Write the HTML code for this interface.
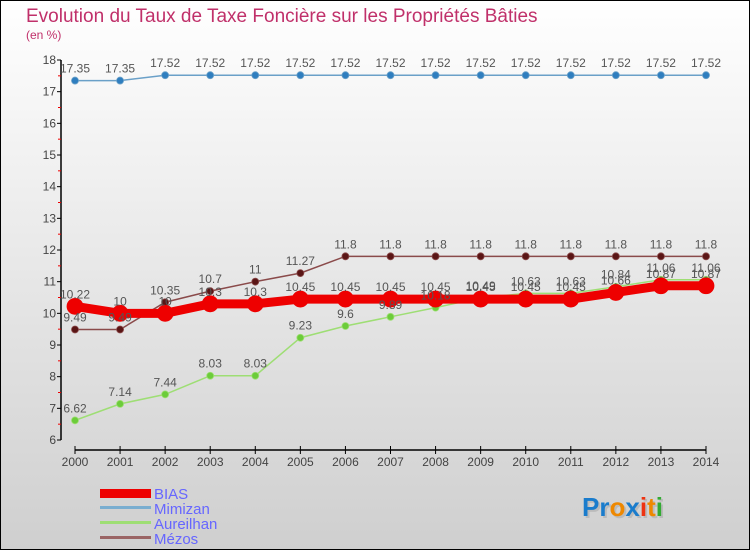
<!DOCTYPE html>
<html><head><meta charset="utf-8"><style>
body{margin:0;width:750px;height:550px;overflow:hidden;font-family:"Liberation Sans",sans-serif}
svg{display:block}
</style></head><body>
<svg id="chart" width="750" height="550" xmlns="http://www.w3.org/2000/svg">
<defs><linearGradient id="bg" x1="0" y1="0" x2="0" y2="1"><stop offset="0" stop-color="#ffffff"/><stop offset="1" stop-color="#cfcfcf"/></linearGradient></defs>
<rect x="0.5" y="0.5" width="749" height="549" fill="url(#bg)" stroke="#000"/>
<text x="26" y="22" font-size="19" fill="#c0306a">Evolution du Taux de Taxe Foncière sur les Propriétés Bâties</text>
<text x="26" y="39" font-size="12" fill="#c0306a">(en %)</text>
<g id="axes"></g><g id="series"></g><g id="labels"></g>
<g>
<rect x="100" y="489" width="51" height="9" fill="#e00"/>
<text x="154" y="499" font-size="15" fill="#6666ff">BIAS</text>
<rect x="100" y="506" width="51" height="3" fill="#7aaed0"/>
<text x="154" y="514" font-size="15" fill="#6666ff">Mimizan</text>
<rect x="100" y="521" width="51" height="3" fill="#9ede74"/>
<text x="154" y="529" font-size="15" fill="#6666ff">Aureilhan</text>
<rect x="100" y="536" width="51" height="3" fill="#9a6464"/>
<text x="154" y="544" font-size="15" fill="#6666ff">Mézos</text>
</g>
<g font-size="26" font-weight="bold">
<text x="584" y="518" fill="#bbb">Proxiti</text>
<text x="582" y="516" fill="#1a7ccc">Pr<tspan fill="#ee8800">o</tspan><tspan fill="#1a7ccc">x</tspan><tspan fill="#ee3311">i</tspan><tspan fill="#ee8800">t</tspan><tspan fill="#33aa33">i</tspan></text>
</g>
</svg>
<script>
const years=[2000,2001,2002,2003,2004,2005,2006,2007,2008,2009,2010,2011,2012,2013,2014];
const bias=[10.22,10,10,10.3,10.3,10.45,10.45,10.45,10.45,10.45,10.45,10.45,10.66,10.87,10.87];
const mimizan=[17.35,17.35,17.52,17.52,17.52,17.52,17.52,17.52,17.52,17.52,17.52,17.52,17.52,17.52,17.52];
const aureilhan=[6.62,7.14,7.44,8.03,8.03,9.23,9.6,9.89,10.18,10.49,10.63,10.63,10.84,11.06,11.06];
const mezos=[9.49,9.49,10.35,10.7,11,11.27,11.8,11.8,11.8,11.8,11.8,11.8,11.8,11.8,11.8];
const yTicks=[6,7,8,9,10,11,12,13,14,15,16,17,18];
const NS="http://www.w3.org/2000/svg";
const xS=i=>75+i*(706-75)/(years.length-1);
const yS=v=>440-(v-6)*(380/12);
function mk(tag,attrs,parent,text){const e=document.createElementNS(NS,tag);for(const k in attrs)e.setAttribute(k,attrs[k]);if(text!==undefined)e.textContent=text;document.getElementById(parent).appendChild(e);return e;}
let e=mk('line',{x1:61,y1:60,x2:61,y2:440,stroke:'#000','stroke-width':1.5},'axes');

e=mk('line',{x1:75,y1:450,x2:706,y2:450,stroke:'#000','stroke-width':1.5},'axes');

yTicks.forEach(v=>{
 mk('line',{x1:57,y1:yS(v),x2:61,y2:yS(v),stroke:'#000'},'axes');
 if(v<18){mk('line',{x1:58,y1:yS(v+0.5),x2:61,y2:yS(v+0.5),stroke:'#e00'},'axes');}
 const t=mk('text',{x:56,y:yS(v)+4,'font-size':12,fill:'#444','text-anchor':'end'},'axes',String(v));
 
});
years.forEach((y,i)=>{
 mk('line',{x1:xS(i),y1:446,x2:xS(i),y2:454,stroke:'#000'},'axes');
 const t=mk('text',{x:xS(i),y:466,'font-size':12,fill:'#444','text-anchor':'middle'},'axes',String(y));
 
});
function series(vals,name,color,lw,r,dot){
 const pts=vals.map((v,i)=>xS(i)+','+yS(v)).join(' ');
 const p=mk('polyline',{points:pts,fill:'none',stroke:color,'stroke-width':lw},'series');
 
 vals.forEach((v,i)=>{
  const c=mk('circle',{cx:xS(i),cy:yS(v),r:r,fill:dot,stroke:color,'stroke-width':0.8},'series');
  
  const t=mk('text',{x:xS(i),y:yS(v)-8,'font-size':12,fill:'#555','text-anchor':'middle'},'labels',String(v));
  
 });
}
series(mimizan,'mimizan','#6aa0c8',1.5,3.5,'#2f7ebf');
series(aureilhan,'aureilhan','#9ede74',1.5,3.5,'#6ccc3a');
series(mezos,'mezos','#8a4a4a',1.5,3.5,'#5a1515');
series(bias,'bias','#ee0000',9,8,'#ee0000');
</script>
</body></html>
